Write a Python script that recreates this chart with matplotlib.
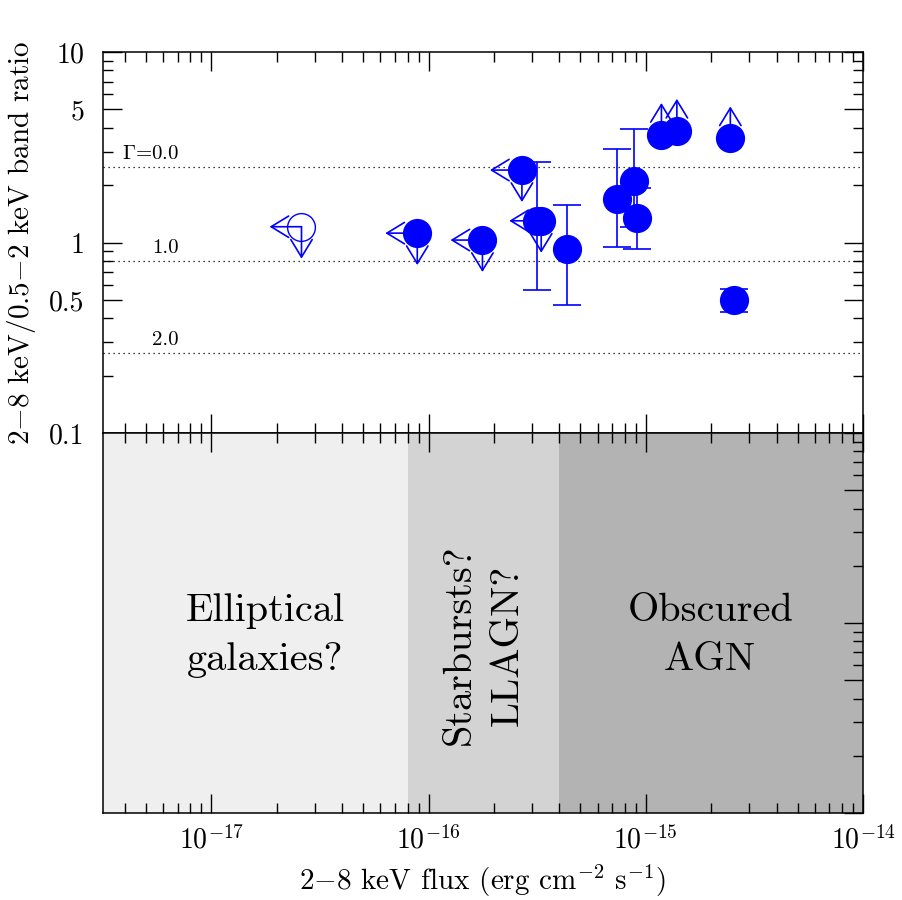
import numpy as np
import matplotlib
matplotlib.use('Agg')
import matplotlib.pyplot as plt
from matplotlib.ticker import FixedLocator, FuncFormatter, NullFormatter

plt.rcParams['font.family'] = ['cmr10', 'DejaVu Serif']
plt.rcParams['mathtext.fontset'] = 'cm'
plt.rcParams['axes.unicode_minus'] = False
plt.rcParams['axes.formatter.use_mathtext'] = True

# fontes com razao medida e barras de erro
det_flux = [3.14e-16, 4.33e-16, 7.39e-16, 8.84e-16, 9.10e-16, 2.55e-15]
det_ratio = [1.30, 0.93, 1.70, 2.11, 1.35, 0.50]
det_hi = [2.66, 1.58, 3.09, 3.96, 1.93, 0.57]
det_lo = [0.56, 0.47, 0.95, 1.21, 0.92, 0.43]

# limites superiores em fluxo e razao
ul_flux = [8.87e-17, 1.77e-16, 2.69e-16, 3.30e-16]
ul_ratio = [1.12, 1.03, 2.40, 1.30]

# simbolo aberto (tambem limite superior)
open_flux = [2.60e-17]
open_ratio = [1.21]

# limites inferiores na razao
ll_flux = [1.18e-15, 1.39e-15, 2.45e-15]
ll_ratio = [3.67, 3.86, 3.52]

# linhas de indice de fotons
gamma_labels = [r'$\Gamma$=0.0', '1.0', '2.0']
gamma_ratio = [2.48, 0.797, 0.263]

# regioes do painel de baixo
region_edges = [10**-17.5, 8e-17, 4e-16, 1e-14]
region_colors = ['#efefef', '#d3d3d3', '#b3b3b3']
region_labels = ['Elliptical\ngalaxies?', 'Starbursts?\nLLAGN?', 'Obscured\nAGN']
region_rot = [0, 90, 0]

x_major = [1e-17, 1e-16, 1e-15, 1e-14]
y_major = [0.1, 0.5, 1, 5, 10]

BLUE = '#0000ff'
ARROW = 23  # comprimento das setas em pontos


def seta(ax, x, y, dx, dy):
    ax.annotate('', xy=(x, y), xytext=(dx, dy), textcoords='offset points',
                arrowprops=dict(arrowstyle='<-,head_length=0.9,head_width=0.55',
                                color=BLUE, lw=1.2, shrinkA=0, shrinkB=0,
                                mutation_scale=14), zorder=2)


def eixos_log(ax):
    ax.set_xscale('log')
    ax.set_yscale('log')
    ax.set_xlim(10**-17.5, 1e-14)
    ax.set_ylim(0.1, 10)
    ax.xaxis.set_major_locator(FixedLocator(x_major))
    xmin = [k * 10.0**e for e in range(-18, -14) for k in range(2, 10)]
    ax.xaxis.set_minor_locator(FixedLocator([v for v in xmin if 10**-17.5 < v < 1e-14]))
    ax.yaxis.set_major_locator(FixedLocator(y_major))
    ax.yaxis.set_minor_locator(FixedLocator([k * 10.0**e for e in (-1, 0) for k in (2, 3, 4, 6, 7, 8, 9)]))
    ax.xaxis.set_minor_formatter(NullFormatter())
    ax.yaxis.set_minor_formatter(NullFormatter())
    ax.tick_params(which='major', direction='in', length=14, width=1.0)
    ax.tick_params(which='minor', direction='in', length=7, width=1.0)
    for s in ax.spines.values():
        s.set_linewidth(1.1)


fig = plt.figure(figsize=(9.02, 9.0), dpi=100)
ax = fig.add_axes([0.1139, 0.5189, 0.8429, 0.4233])
ax2 = fig.add_axes([0.1139, 0.0967, 0.8429, 0.4222])

# painel de cima
eixos_log(ax)
ax.tick_params(which='both', top=True, right=True, bottom=True, left=True,
               labelbottom=False, labelsize=20)
ax.tick_params(axis='y', which='major', pad=13)
ax.yaxis.set_major_formatter(FuncFormatter(lambda v, p: '%g' % v))

for g, lab in zip(gamma_ratio, gamma_labels):
    ax.axhline(g, color='black', lw=0.9, ls=(0, (1, 3)), zorder=1)
    ax.annotate(lab, xy=(0.1, g), xycoords=('axes fraction', 'data'),
                xytext=(0, 3), textcoords='offset points',
                ha='right', va='bottom', fontsize=15)

ax.errorbar(det_flux, det_ratio,
            yerr=[np.array(det_ratio) - np.array(det_lo), np.array(det_hi) - np.array(det_ratio)],
            fmt='none', ecolor=BLUE, elinewidth=1.2, capsize=10, capthick=1.2, zorder=2)

for x, y in zip(ul_flux + open_flux, ul_ratio + open_ratio):
    seta(ax, x, y, -ARROW, 0)
    seta(ax, x, y, 0, -ARROW)
for x, y in zip(ll_flux, ll_ratio):
    seta(ax, x, y, 0, ARROW)

ax.plot(det_flux + ul_flux + ll_flux, det_ratio + ul_ratio + ll_ratio, 'o',
        color=BLUE, ms=20, mec=BLUE, zorder=3)
ax.plot(open_flux, open_ratio, 'o', mfc='none', mec=BLUE, mew=1.0, ms=20, zorder=3)

ax.set_ylabel('2$-$8 keV/0.5$-$2 keV band ratio', fontsize=21, labelpad=8)

# painel de baixo
eixos_log(ax2)
ax2.tick_params(which='both', top=True, right=True, bottom=True, left=False,
                labelleft=False, labelsize=20, pad=9)
for i, c in enumerate(region_colors):
    ax2.axvspan(region_edges[i], region_edges[i + 1], color=c, lw=0, zorder=0)

label_pos = [(0.2135, 0.467), (0.5015, 0.442), (0.799, 0.467)]
for (px, py), lab, rot in zip(label_pos, region_labels, region_rot):
    ax2.text(px, py, lab, transform=ax2.transAxes, ha='center', va='center',
             rotation=rot, fontsize=29, linespacing=1.45, multialignment='center')

ax2.set_xlabel('2$-$8 keV flux (erg cm$^{-2}$ s$^{-1}$)', fontsize=21, labelpad=6)

fig.savefig('out.png', dpi=100)
